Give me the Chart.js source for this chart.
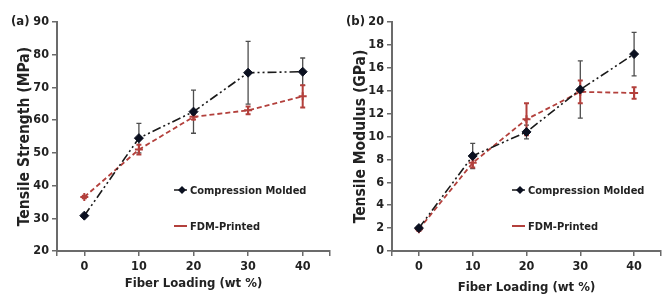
<!DOCTYPE html>
<html>
<head>
<meta charset="utf-8">
<script src="https://cdn.jsdelivr.net/npm/chart.js@4/dist/chart.umd.min.js"></script>
<style>
  body { margin: 0; background: #fff; }
  #wrap { position: relative; width: 672px; height: 307px; overflow: hidden; }
  canvas { position: absolute; top: 0; }
  .panel { position: absolute; top: 13px; font: bold 13px 'Liberation Sans Narrow', 'DejaVu Sans Condensed', sans-serif; color: #222; }
</style>
</head>
<body>
<div id="wrap">
  <canvas id="strengthChart" width="336" height="307" style="left:0"></canvas>
  <canvas id="modulusChart" width="336" height="307" style="left:336px"></canvas>
  <div class="panel" style="left:11px">(a)</div>
  <div class="panel" style="left:346px">(b)</div>
</div>
<script>
const fiberLoading = [0, 10, 20, 30, 40];
const xTickLabels = ["0", "10", "20", "30", "40"];

const strengthCM = [30.8, 54.5, 62.6, 74.5, 74.8];
const strengthCMErr = [0.4, 4.5, 6.6, 9.6, 4.2];
const strengthFDM = [36.5, 51.0, 61.0, 63.0, 67.3];
const strengthFDMErr = [0.4, 1.5, 0.8, 1.2, 3.4];

const modulusCM = [2.0, 8.3, 10.4, 14.1, 17.2];
const modulusCMErr = [0.15, 1.1, 0.6, 2.5, 1.9];
const modulusFDM = [1.9, 7.7, 11.5, 13.9, 13.8];
const modulusFDMErr = [0.15, 0.4, 1.4, 1.0, 0.5];

const seriesNames = ["Compression Molded", "FDM-Printed"];

const FONT = "'Liberation Sans Narrow', 'DejaVu Sans Condensed', sans-serif";
const TXT = "#222";
const AXIS = "#6b6b6b";
const CM_COLOR = "#1a1a1a";
const CM_MARK = "#0b1020";
const FDM_COLOR = "#b3403c";

// vertical error bars, drawn through the chart scales
const errorBars = {
  id: "errorBars",
  beforeDatasetsDraw(chart) {
    const ctx = chart.ctx;
    const xs = chart.scales.x, ys = chart.scales.y;
    chart.data.datasets.forEach((ds) => {
      if (!ds.errors) return;
      ctx.save();
      ctx.strokeStyle = ds.errorColor;
      ctx.lineWidth = ds.errorWidth;
      ds.data.forEach((p, i) => {
        const x = xs.getPixelForValue(p.x);
        const y1 = ys.getPixelForValue(p.y + ds.errors[i]);
        const y2 = ys.getPixelForValue(p.y - ds.errors[i]);
        ctx.beginPath();
        ctx.moveTo(x, y1); ctx.lineTo(x, y2);
        ctx.moveTo(x - 2.5, y1); ctx.lineTo(x + 2.5, y1);
        ctx.moveTo(x - 2.5, y2); ctx.lineTo(x + 2.5, y2);
        ctx.stroke();
      });
      ctx.restore();
    });
  },
};

// legend inside the plot area
const insideLegend = {
  id: "insideLegend",
  afterDraw(chart, args, opts) {
    const ctx = chart.ctx;
    const a = chart.chartArea;
    const x0 = a.left + opts.dx;
    ctx.save();
    ctx.font = "bold 11px " + FONT;
    ctx.fillStyle = TXT;
    ctx.textBaseline = "middle";
    chart.data.datasets.forEach((ds, i) => {
      const y = a.top + opts.dy[i];
      ctx.strokeStyle = ds.borderColor;
      ctx.lineWidth = i === 0 ? 1.5 : 2;
      ctx.beginPath();
      ctx.moveTo(x0 - 6, y); ctx.lineTo(x0 + 7, y);
      ctx.stroke();
      if (i === 0) {
        ctx.fillStyle = CM_MARK;
        ctx.beginPath();
        ctx.moveTo(x0 + 2, y - 4); ctx.lineTo(x0 + 6, y);
        ctx.lineTo(x0 + 2, y + 4); ctx.lineTo(x0 - 2, y);
        ctx.closePath(); ctx.fill();
        ctx.fillStyle = TXT;
      }
      ctx.fillText(ds.label, x0 + 10, y + 1);
    });
    ctx.restore();
  },
};

function makeChart(id, cm, cmErr, fdm, fdmErr, yMin, yMax, yStep, yTitle, padRight, axisWidth, legendDx, xTitlePad) {
  const pts = (arr) => fiberLoading.map((x, i) => ({ x: x, y: arr[i] }));
  return new Chart(document.getElementById(id).getContext("2d"), {
    type: "scatter",
    data: {
      datasets: [
        {
          label: seriesNames[0],
          data: pts(cm),
          errors: cmErr,
          errorColor: "#4d4d4d",
          errorWidth: 1.3,
          showLine: true,
          borderColor: CM_COLOR,
          borderWidth: 1.6,
          borderDash: [9, 3, 2, 3, 2, 3],
          pointStyle: "rectRot",
          pointRadius: 4.5,
          pointBackgroundColor: CM_MARK,
          pointBorderColor: CM_MARK,
          pointBorderWidth: 1,
        },
        {
          label: seriesNames[1],
          data: pts(fdm),
          errors: fdmErr,
          errorColor: FDM_COLOR,
          errorWidth: 2,
          showLine: true,
          borderColor: FDM_COLOR,
          borderWidth: 1.8,
          borderDash: [5, 3],
          pointStyle: "cross",
          pointRadius: 4,
          pointBackgroundColor: FDM_COLOR,
          pointBorderColor: FDM_COLOR,
          pointBorderWidth: 2,
        },
      ],
    },
    options: {
      responsive: false,
      animation: false,
      layout: { padding: { top: 22, right: padRight, left: 0, bottom: 0 } },
      plugins: {
        legend: { display: false },
        tooltip: { enabled: false },
        insideLegend: { dx: legendDx, dy: [168, 204] },
      },
      scales: {
        x: {
          type: "linear",
          min: -5,
          max: 45,
          afterBuildTicks: (s) => {
            s.ticks = [-5, ...fiberLoading, 45].map((v) => ({ value: v }));
          },
          afterFit: (s) => { s.height = 56; },
          ticks: {
            color: TXT,
            font: { family: FONT, weight: "bold", size: 12.5 },
            padding: 3,
            maxRotation: 0,
            callback: (v) => {
              const i = fiberLoading.indexOf(v);
              return i < 0 ? "" : xTickLabels[i];
            },
          },
          grid: { drawOnChartArea: false, color: AXIS, tickLength: 5, lineWidth: 1.5 },
          border: { color: AXIS, width: 2 },
          title: {
            display: true,
            text: "Fiber Loading (wt %)",
            color: TXT,
            font: { family: FONT, weight: "bold", size: 13 },
            padding: { top: 0, bottom: xTitlePad },
          },
        },
        y: {
          min: yMin,
          max: yMax,
          afterFit: (s) => { s.width = axisWidth; },
          ticks: {
            stepSize: yStep,
            color: TXT,
            font: { family: FONT, weight: "bold", size: 12.5 },
            padding: 3,
          },
          grid: { drawOnChartArea: false, color: AXIS, tickLength: 5, lineWidth: 1.5 },
          border: { color: AXIS, width: 2 },
          title: {
            display: true,
            text: yTitle,
            color: TXT,
            font: { family: FONT, weight: "bold", size: 15.5 },
            padding: { top: 16 },
          },
        },
      },
    },
    plugins: [errorBars, insideLegend],
  });
}

makeChart("strengthChart", strengthCM, strengthCMErr, strengthFDM, strengthFDMErr,
  20, 90, 10, "Tensile Strength (MPa)", 6, 57, 123, 16);
makeChart("modulusChart", modulusCM, modulusCMErr, modulusFDM, modulusFDMErr,
  0, 20, 2, "Tensile Modulus (GPa)", 11, 56, 126, 12);
</script>
</body>
</html>
